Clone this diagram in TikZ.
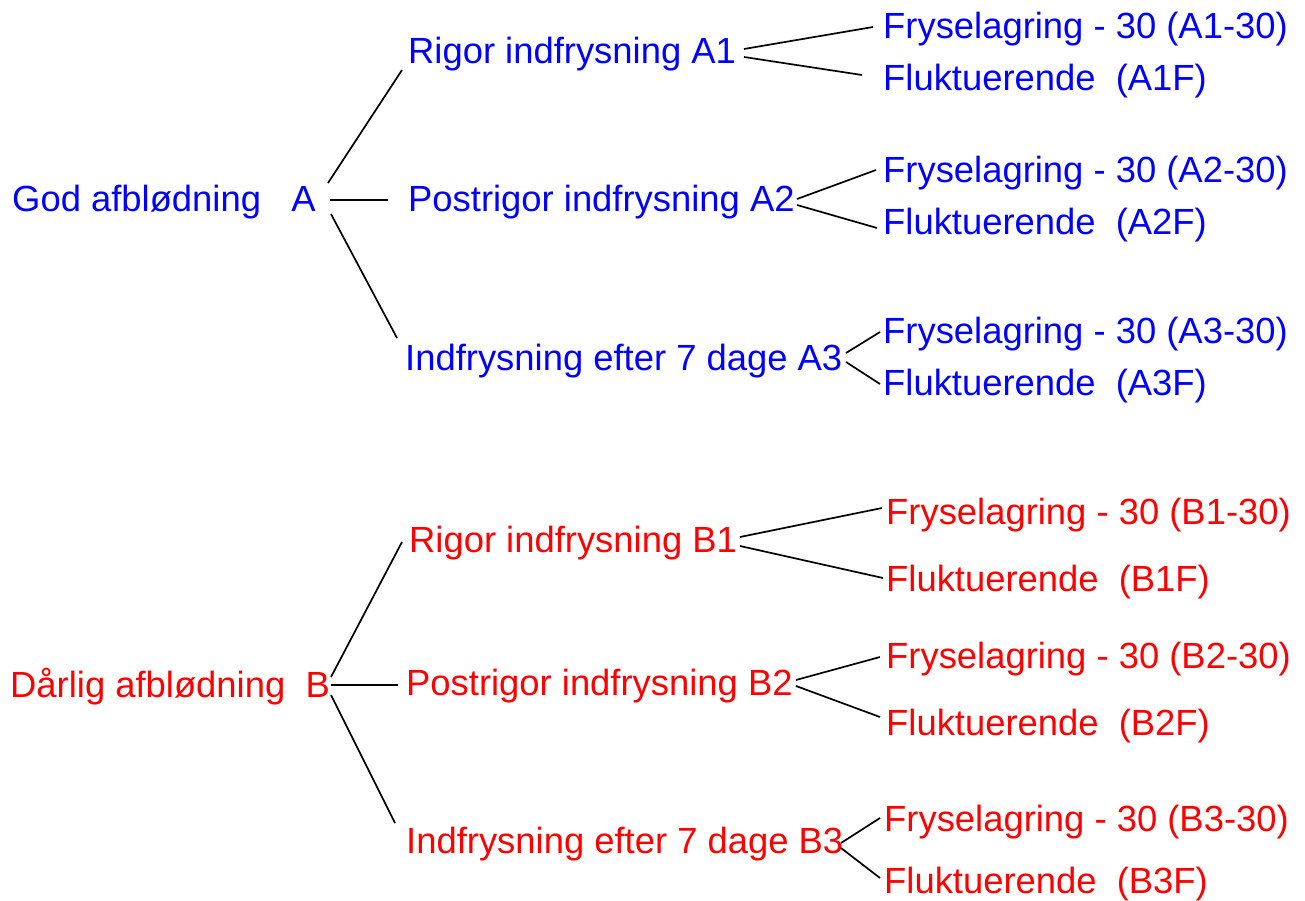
\documentclass[tikz,border=0pt]{standalone}
\usepackage{fontspec}
\setmainfont{Liberation Sans}
\begin{document}
\begin{tikzpicture}[x=1pt,y=-1pt,
  lbl/.style={anchor=base west,inner sep=0pt,font=\fontsize{36.4}{40}\selectfont},
  ga/.style={lbl,text={rgb,255:red,0;green,0;blue,255}},
  gb/.style={lbl,text={rgb,255:red,255;green,0;blue,0}},
  con/.style={draw=black,line width=1.7pt}]
\useasboundingbox (0,0) rectangle (1305,901);
% group A
\node[ga] (A)   at (12,212)  {God afblødning~~~A};
\node[ga] (A1)  at (408,64)  {Rigor indfrysning A1};
\node[ga] (A2)  at (408,212) {Postrigor indfrysning A2};
\node[ga] (A3)  at (405,370) {Indfrysning efter 7 dage A3};
\node[ga] (A1a) at (883,39)  {Fryselagring - 30 (A1-30)};
\node[ga] (A1b) at (883,91)  {Fluktuerende~~(A1F)};
\node[ga] (A2a) at (883,183) {Fryselagring - 30 (A2-30)};
\node[ga] (A2b) at (883,234) {Fluktuerende~~(A2F)};
\node[ga] (A3a) at (883,343) {Fryselagring - 30 (A3-30)};
\node[ga] (A3b) at (883,395) {Fluktuerende~~(A3F)};
% group B
\node[gb] (B)   at (10,697)  {Dårlig afblødning~~B};
\node[gb] (B1)  at (409,552) {Rigor indfrysning B1};
\node[gb] (B2)  at (406,695) {Postrigor indfrysning B2};
\node[gb] (B3)  at (406,853) {Indfrysning efter 7 dage B3};
\node[gb] (B1a) at (886,524) {Fryselagring - 30 (B1-30)};
\node[gb] (B1b) at (886,591) {Fluktuerende~~(B1F)};
\node[gb] (B2a) at (886,668) {Fryselagring - 30 (B2-30)};
\node[gb] (B2b) at (886,735) {Fluktuerende~~(B2F)};
\node[gb] (B3a) at (884,831) {Fryselagring - 30 (B3-30)};
\node[gb] (B3b) at (884,893) {Fluktuerende~~(B3F)};
% connector end points
\coordinate (aA1) at (328,183); \coordinate (eA1) at (402,70);
\coordinate (aA2) at (330,200); \coordinate (eA2) at (388,200);
\coordinate (aA3) at (331,214); \coordinate (eA3) at (397,338);
\coordinate (sA1a) at (744,49);  \coordinate (tA1a) at (873,27);
\coordinate (sA1b) at (744,57);  \coordinate (tA1b) at (862,75);
\coordinate (sA2a) at (797,199); \coordinate (tA2a) at (876,170);
\coordinate (sA2b) at (797,205); \coordinate (tA2b) at (877,228);
\coordinate (sA3a) at (846,353); \coordinate (tA3a) at (880,332);
\coordinate (sA3b) at (846,362); \coordinate (tA3b) at (880,384);
\coordinate (aB1) at (331,677); \coordinate (eB1) at (402,542);
\coordinate (aB2) at (331,685); \coordinate (eB2) at (398,685);
\coordinate (aB3) at (331,695); \coordinate (eB3) at (395,823);
\coordinate (sB1a) at (740,537); \coordinate (tB1a) at (882,508);
\coordinate (sB1b) at (740,546); \coordinate (tB1b) at (883,578);
\coordinate (sB2a) at (796,680); \coordinate (tB2a) at (880,657);
\coordinate (sB2b) at (796,686); \coordinate (tB2b) at (880,717);
\coordinate (sB3a) at (841,843); \coordinate (tB3a) at (880,818);
\coordinate (sB3b) at (841,848); \coordinate (tB3b) at (880,878);
\foreach \s/\t in {aA1/eA1,aA2/eA2,aA3/eA3,sA1a/tA1a,sA1b/tA1b,sA2a/tA2a,sA2b/tA2b,sA3a/tA3a,sA3b/tA3b,
                   aB1/eB1,aB2/eB2,aB3/eB3,sB1a/tB1a,sB1b/tB1b,sB2a/tB2a,sB2b/tB2b,sB3a/tB3a,sB3b/tB3b}
  \draw[con] (\s) -- (\t);
\end{tikzpicture}
\end{document}
